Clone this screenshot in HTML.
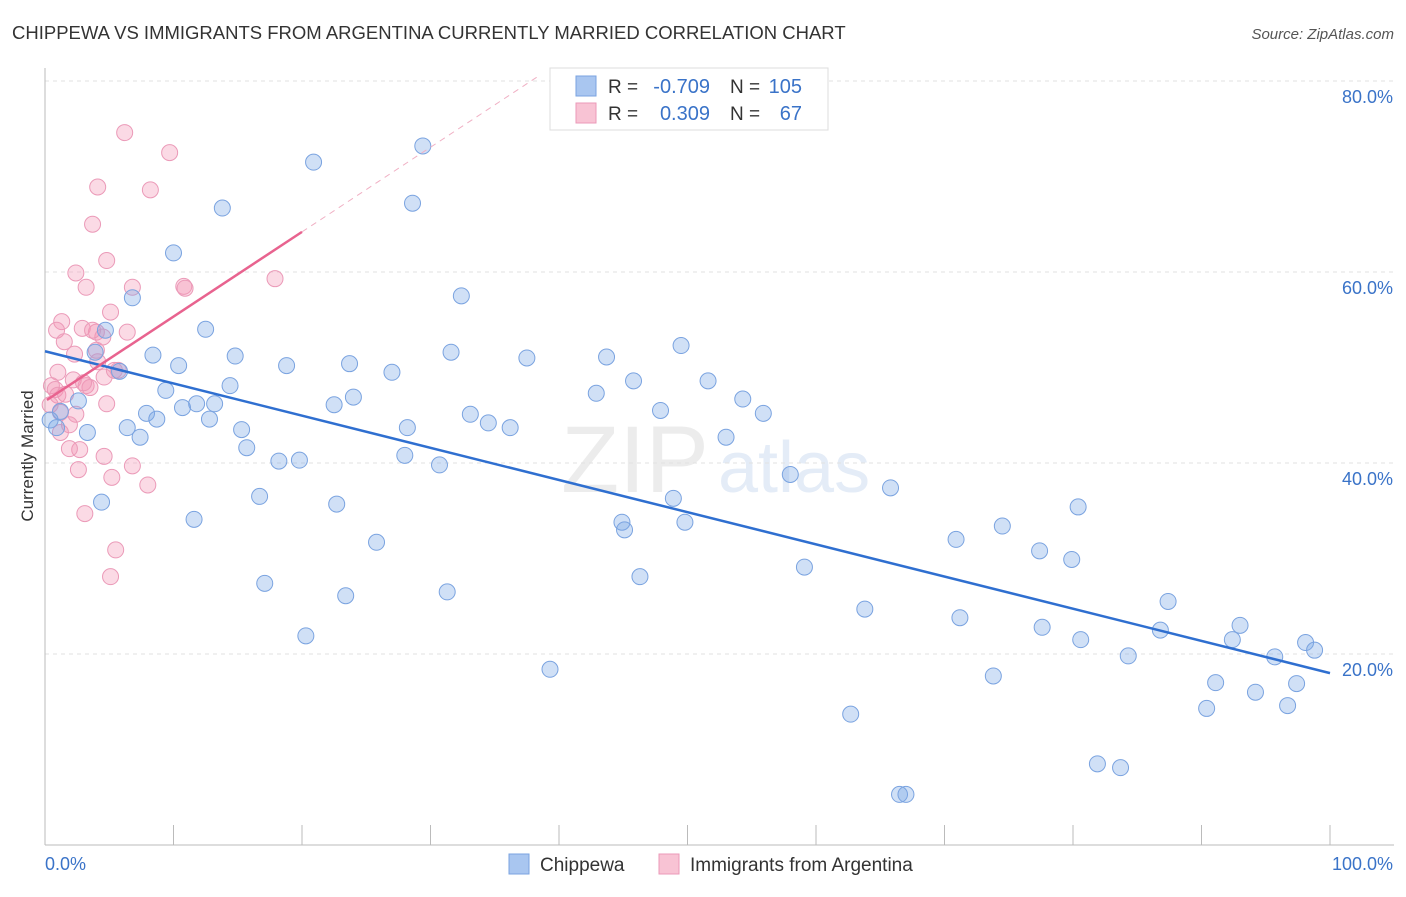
<!DOCTYPE html>
<html><head><meta charset="utf-8"><style>
body{margin:0;background:#fff;font-family:"Liberation Sans",sans-serif;}
svg text{font-family:"Liberation Sans",sans-serif;}
</style></head><body>
<svg id="c" width="1406" height="892"></svg>
<script>
const bluePx=[[314,162],[423,146],[222,208],[413,203],[173,253],[461,296],[133,298],[206,329],[106,330],[95,352],[153,355],[235,356],[179,366],[119,371],[287,366],[349,364],[392,372],[451,352],[527,358],[606,357],[681,346],[633,381],[708,381],[230,386],[166,390],[596,393],[354,397],[743,399],[197,404],[215,404],[182,408],[147,413],[157,419],[210,419],[334,405],[470,414],[488,423],[510,428],[763,413],[660,410],[61,411],[79,401],[127,428],[88,432],[140,437],[241,430],[247,448],[407,428],[726,437],[279,461],[299,460],[405,455],[440,465],[790,474],[890,488],[260,496],[102,502],[337,504],[673,498],[622,522],[624,530],[685,522],[194,519],[1078,507],[1002,526],[956,539],[377,542],[1039,551],[1072,559],[804,567],[640,577],[265,583],[346,596],[447,592],[1168,601],[865,609],[960,618],[306,636],[1042,627],[1160,630],[1240,625],[1081,640],[1232,640],[1306,643],[1315,650],[1128,656],[1275,657],[550,669],[993,676],[1216,683],[1297,684],[1256,692],[1206,708],[1287,706],[851,714],[1097,764],[1121,768],[900,794],[906,794],[57,428],[50,420]];
const pinkPx=[[125,133],[170,153],[98,187],[150,190],[92,224],[107,261],[76,273],[275,279],[86,287],[132,287],[184,286],[185,288],[110,312],[62,322],[56,330],[82,328],[96,332],[127,332],[103,337],[64,342],[98,362],[74,354],[58,372],[73,380],[52,386],[55,389],[86,386],[90,388],[104,377],[84,383],[58,395],[66,394],[114,370],[107,404],[61,412],[76,414],[50,405],[70,425],[60,432],[80,450],[70,449],[104,456],[133,466],[79,470],[112,477],[148,485],[85,514],[116,550],[110,577],[96,350],[92,330],[118,370]];
// data values (percent) derived from the picture
const blueX=bluePx.map(p=>+((p[0]-45)/12.85).toFixed(1));
const blueY=bluePx.map(p=>+((845-p[1])/9.55).toFixed(1));
const pinkX=pinkPx.map(p=>+((p[0]-45)/12.85).toFixed(1));
const pinkY=pinkPx.map(p=>+((845-p[1])/9.55).toFixed(1));
const yTicks=[20,40,60,80];
const yTickLabels=["20.0%","40.0%","60.0%","80.0%"];
const blueTrend=[[0,51.7],[100,18.0]];
const pinkTrend=[[0.15,46.6],[20,64.2]];
const pinkDash=[[20,64.2],[38.5,80.6]];

const X=v=>45+v*12.85, Y=v=>845-v*9.55;
const svg=document.getElementById('c');const NS='http://www.w3.org/2000/svg';
function el(t,a,txt){const e=document.createElementNS(NS,t);for(const k in a)e.setAttribute(k,a[k]);if(txt!=null)e.textContent=txt;svg.appendChild(e);return e;}
let t=el('text',{x:12,y:39,'font-size':18.5,fill:'#333'},'CHIPPEWA VS IMMIGRANTS FROM ARGENTINA CURRENTLY MARRIED CORRELATION CHART');

t=el('text',{x:1394,y:39,'font-size':15,fill:'#555','font-style':'italic','text-anchor':'end'},'Source: ZipAtlas.com');

t=el('text',{x:635,y:492,'font-size':95,fill:'#ececec','text-anchor':'middle','font-family':'Liberation Serif'},'ZIP');

t=el('text',{x:718,y:492,'font-size':72,fill:'#e4ecf7'},'atlas');

yTicks.forEach((v,i)=>{
 let g=el('line',{x1:45,x2:1394,y1:Y(v),y2:Y(v),stroke:'#e2e2e2','stroke-dasharray':'4,4'});
 
 let l=el('text',{x:1393,y:Y(v)+22,'font-size':18,fill:'#3a73c8','text-anchor':'end'},yTickLabels[i]);
 
});
let a=el('line',{x1:45,x2:45,y1:68,y2:845,stroke:'#bbb'});
a=el('line',{x1:45,x2:1394,y1:845,y2:845,stroke:'#bbb'});
for(let i=0;i<=10;i++){let k=el('line',{x1:X(i*10),x2:X(i*10),y1:825,y2:845,stroke:'#bbb'});}
t=el('text',{x:45,y:870,'font-size':18,fill:'#3a73c8'},'0.0%');
t=el('text',{x:1393,y:870,'font-size':18,fill:'#3a73c8','text-anchor':'end'},'100.0%');
t=el('text',{x:33,y:456,'font-size':17,fill:'#333','text-anchor':'middle',transform:'rotate(-90 33 456)'},'Currently Married');

pinkX.forEach((x,i)=>{let c=el('circle',{cx:X(x),cy:Y(pinkY[i]),r:8,fill:'rgba(243,150,180,0.35)',stroke:'#eb9ab8','stroke-width':1});
 });
blueX.forEach((x,i)=>{let c=el('circle',{cx:X(x),cy:Y(blueY[i]),r:8,fill:'rgba(120,165,230,0.35)',stroke:'#7aa3e0','stroke-width':1});
 });
let ln=el('line',{x1:X(blueTrend[0][0]),y1:Y(blueTrend[0][1]),x2:X(blueTrend[1][0]),y2:Y(blueTrend[1][1]),stroke:'#2f6fd0','stroke-width':2.5});

ln=el('line',{x1:X(pinkTrend[0][0]),y1:Y(pinkTrend[0][1]),x2:X(pinkTrend[1][0]),y2:Y(pinkTrend[1][1]),stroke:'#e8638f','stroke-width':2.5});

ln=el('line',{x1:X(pinkDash[0][0]),y1:Y(pinkDash[0][1]),x2:X(pinkDash[1][0]),y2:Y(pinkDash[1][1]),stroke:'#f0b0c4','stroke-width':1,'stroke-dasharray':'6,5'});

let r=el('rect',{x:550,y:68,width:278,height:62,fill:'#fff',stroke:'#ddd'});
[[0,'#a9c6f0','#7aa3e0','-0.709','105'],[1,'#f8c3d4','#eb9ab8','0.309','67']].forEach(d=>{
 const y=86+d[0]*27;
 let s=el('rect',{x:576,y:y-10,width:20,height:20,fill:d[1],stroke:d[2]});
 let q=el('text',{x:608,y:y+7,'font-size':19,fill:'#333'},'R =');
 q=el('text',{x:710,y:y+7,'font-size':20,fill:'#3a73c8','text-anchor':'end'},d[3]);
 q=el('text',{x:730,y:y+7,'font-size':19,fill:'#333'},'N =');
 q=el('text',{x:802,y:y+7,'font-size':20,fill:'#3a73c8','text-anchor':'end'},d[4]);
});
[[509,'#a9c6f0','#7aa3e0','Chippewa','legend-chippewa'],[659,'#f8c3d4','#eb9ab8','Immigrants from Argentina','legend-argentina']].forEach(d=>{
 let s=el('rect',{x:d[0],y:854,width:20,height:20,fill:d[1],stroke:d[2]});
 let q=el('text',{x:d[0]+31,y:871,'font-size':19,fill:'#333'},d[3]);
});
</script>
</body></html>
